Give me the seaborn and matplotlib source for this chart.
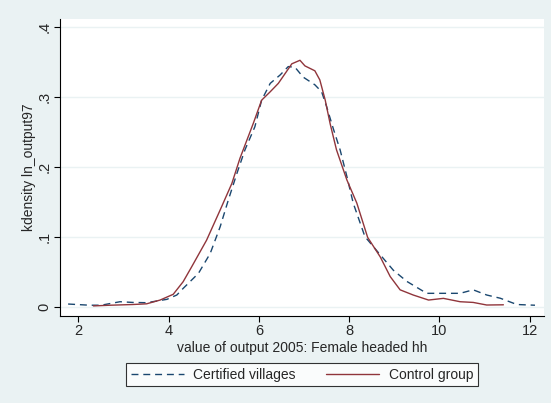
import pandas as pd
import matplotlib
matplotlib.use("Agg")
import matplotlib.pyplot as plt
import seaborn as sns

# kernel density estimates
cert_x = [1.77, 2.25, 2.5, 2.92, 3.2, 3.51, 3.96, 4.18, 4.32, 4.66, 4.92, 5.14, 5.32, 5.51,
          5.69, 5.91, 6.06, 6.25, 6.47, 6.65, 6.80, 6.98, 7.24, 7.39, 7.50, 7.65, 7.80, 7.95,
          8.09, 8.35, 8.69, 8.98, 9.28, 9.72, 10.1, 10.46, 10.75, 11.05, 11.35, 11.72, 12.12]
cert_y = [0.0047, 0.003, 0.003, 0.008, 0.007, 0.0066, 0.0114, 0.0176, 0.027, 0.0486, 0.077,
          0.115, 0.153, 0.191, 0.225, 0.258, 0.296, 0.32, 0.332, 0.344, 0.343, 0.329, 0.318,
          0.308, 0.287, 0.255, 0.225, 0.187, 0.149, 0.101, 0.075, 0.053, 0.037, 0.02, 0.02,
          0.02, 0.025, 0.0176, 0.013, 0.004, 0.003]

ctrl_x = [2.33, 2.70, 3.2, 3.51, 3.81, 4.10, 4.32, 4.51, 4.84, 5.14, 5.40, 5.58, 5.876, 6.06,
          6.25, 6.43, 6.58, 6.73, 6.91, 7.02, 7.24, 7.35, 7.47, 7.58, 7.72, 7.95, 8.17, 8.41,
          8.69, 8.91, 9.13, 9.42, 9.76, 10.09, 10.46, 10.75, 11.05, 11.42]
ctrl_y = [0.002, 0.003, 0.004, 0.005, 0.0104, 0.0186, 0.0366, 0.058, 0.096, 0.139, 0.177,
          0.213, 0.263, 0.296, 0.308, 0.32, 0.334, 0.348, 0.353, 0.345, 0.338, 0.325, 0.296,
          0.262, 0.225, 0.182, 0.149, 0.1, 0.072, 0.044, 0.025, 0.0176, 0.0104, 0.0128, 0.008,
          0.007, 0.0033, 0.0036]

x_ticks = [2, 4, 6, 8, 10, 12]
y_ticks = [0, 0.1, 0.2, 0.3, 0.4]
y_labels = ["0", ".1", ".2", ".3", ".4"]

df = pd.concat([
    pd.DataFrame({"x": cert_x, "y": cert_y, "group": "Certified villages"}),
    pd.DataFrame({"x": ctrl_x, "y": ctrl_y, "group": "Control group"}),
])

sns.set_style("white")
plt.rcParams["font.family"] = ["Liberation Sans", "DejaVu Sans"]

bg = "#eaf2f3"
fig = plt.figure(figsize=(5.51, 4.03), dpi=100, facecolor=bg)
ax = fig.add_axes([60 / 551, 1 - 316 / 403, 484 / 551, 297 / 403])
ax.set_facecolor("white")

sns.lineplot(data=df, x="x", y="y", hue="group", style="group", ax=ax,
             palette={"Certified villages": "#1a476f", "Control group": "#90353b"},
             dashes={"Certified villages": (5, 3.5), "Control group": ""},
             estimator=None, sort=False, linewidth=1.0, legend=False)

ax.set_xlim(1.59, 12.32)
ax.set_ylim(-0.0124, 0.412)
ax.set_xticks(x_ticks)
ax.set_yticks(y_ticks)
ax.set_yticklabels(y_labels, rotation=90, va="center")
ax.tick_params(axis="both", direction="out", length=4, width=0.8, color="black",
               labelsize=10.5, pad=2, left=True, bottom=True)
for y in y_ticks:
    ax.axhline(y, color=bg, linewidth=1.0, zorder=0)

for s in ["top", "right"]:
    ax.spines[s].set_visible(False)
for s in ["left", "bottom"]:
    ax.spines[s].set_color("black")
    ax.spines[s].set_linewidth(0.8)

ax.set_xlabel("value of output 2005: Female headed hh", fontsize=10, labelpad=2)
ax.set_ylabel("kdensity ln_output97", fontsize=10, labelpad=1)

handles = [
    plt.Line2D([], [], color="#1a476f", linewidth=1.0, dashes=(5, 3.5)),
    plt.Line2D([], [], color="#90353b", linewidth=1.0),
]
leg = fig.legend(handles, ["Certified villages", "Control group"], ncol=2,
                 loc="center", bbox_to_anchor=(302 / 551, 1 - 374.5 / 403),
                 fontsize=10, frameon=True, fancybox=False, handlelength=3.8,
                 columnspacing=2.2, borderpad=0.35, handletextpad=0.7)
leg.get_frame().set_edgecolor("black")
leg.get_frame().set_linewidth(0.8)

fig.savefig("out.png", dpi=100, facecolor=bg)
